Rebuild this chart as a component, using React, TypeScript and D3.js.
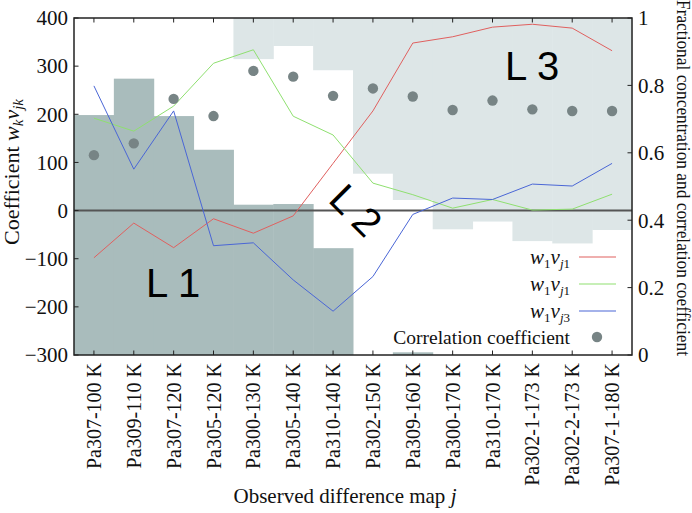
import * as d3 from 'd3';

const maps = [
  'Pa307-100 K', 'Pa309-110 K', 'Pa307-120 K', 'Pa305-120 K', 'Pa300-130 K',
  'Pa305-140 K', 'Pa310-140 K', 'Pa302-150 K', 'Pa309-160 K', 'Pa300-170 K',
  'Pa310-170 K', 'Pa302-1-173 K', 'Pa302-2-173 K', 'Pa307-1-180 K',
];

// fractional concentrations of L1 (from bottom) and L3 (from top)
const fracL1 = [0.712, 0.82, 0.709, 0.609, 0.446, 0.448, 0.317, 0, 0.008, 0, 0, 0, 0, 0];
const fracL3 = [0, 0, 0, 0, 0.122, 0.083, 0.155, 0.462, 0.54, 0.627, 0.604, 0.662, 0.669, 0.629];

const red = [-98, -26, -77, -17, -47, -11, 98, 207, 348, 361, 381, 387, 379, 332];
const green = [192, 165, 217, 306, 334, 196, 157, 57, 33, 5, 23, 1, 3, 34];
const blue = [259, 86, 207, -73, -67, -144, -209, -137, -8, 26, 23, 55, 51, 98];
const corr = [0.593, 0.628, 0.76, 0.709, 0.843, 0.826, 0.769, 0.791, 0.767, 0.727, 0.755, 0.729, 0.724, 0.724];

const leftTicks = [-300, -200, -100, 0, 100, 200, 300, 400];
const rightTicks = [0, 0.2, 0.4, 0.6, 0.8, 1];

const W = 692;
const H = 513;
const m = { left: 74, right: 60, top: 18, bottom: 158 };
const serif = '"Liberation Serif", "Times New Roman", serif';
const sans = '"Liberation Sans", Arial, sans-serif';

const darkFill = '#a9bcbc';
const lightFill = '#dde6e7';
const dotFill = '#778485';

export default function App() {
  const x = d3.scaleBand<string>().domain(maps).range([m.left, W - m.right]).padding(0);
  const yL = d3.scaleLinear().domain([-300, 400]).range([H - m.bottom, m.top]);
  const yR = d3.scaleLinear().domain([0, 1]).range([H - m.bottom, m.top]);
  const cx = (d: string) => (x(d) as number) + x.bandwidth() / 2;

  const line = (vals: number[]) =>
    d3.line<number>().x((_, i) => cx(maps[i])).y((v) => yL(v))(vals) as string;

  const x0 = m.left;
  const x1 = W - m.right;
  const yTop = m.top;
  const yBot = H - m.bottom;

  const series = [
    { vals: red, color: '#e0605f', sub: '1' },
    { vals: green, color: '#8fe070', sub: '1' },
    { vals: blue, color: '#4a66d6', sub: '3' },
  ];

  return (
    <svg width={W} height={H} style={{ position: 'absolute', left: 0, top: 0, background: '#fff' }}>
      {maps.map((d, i) => (
        <g key={d}>
          {fracL1[i] > 0 && (
            <rect x={x(d)} width={x.bandwidth() + 0.5} y={yR(fracL1[i])} height={yR(0) - yR(fracL1[i])} fill={darkFill} />
          )}
          {fracL3[i] > 0 && (
            <rect x={x(d)} width={x.bandwidth() + 0.5} y={yR(1)} height={yR(1 - fracL3[i]) - yR(1)} fill={lightFill} />
          )}
        </g>
      ))}

      <line x1={x0} x2={x1} y1={yL(0)} y2={yL(0)} stroke="#555" strokeWidth={2} />

      {series.map((s, k) => (
        <path key={k} d={line(s.vals)} fill="none" stroke={s.color} strokeWidth={1} />
      ))}

      {corr.map((v, i) => (
        <circle key={i} cx={cx(maps[i])} cy={yR(v)} r={5.2} fill={dotFill} />
      ))}

      <rect x={x0} y={yTop} width={x1 - x0} height={yBot - yTop} fill="none" stroke="#222" strokeWidth={1.5} />

      {maps.map((d) => (
        <g key={d}>
          <line x1={cx(d)} x2={cx(d)} y1={yBot} y2={yBot - 4.5} stroke="#222" strokeWidth={1} />
          <line x1={cx(d)} x2={cx(d)} y1={yTop} y2={yTop + 4.5} stroke="#222" strokeWidth={1} />
          <text
            transform={`translate(${cx(d)},${yBot + 8}) rotate(-90)`}
            textAnchor="end"
            dy="0.35em"
            fontFamily={serif}
            fontSize={20}
            fill="#111"
          >
            {d}
          </text>
        </g>
      ))}

      {leftTicks.map((t) => (
        <g key={t}>
          <line x1={x0} x2={x0 + 4.5} y1={yL(t)} y2={yL(t)} stroke="#222" strokeWidth={1} />
          <text x={x0 - 6} y={yL(t)} dy="0.35em" textAnchor="end" fontFamily={serif} fontSize={21} fill="#111">
            {t < 0 ? `\u2212${-t}` : t}
          </text>
        </g>
      ))}

      {rightTicks.map((t) => (
        <g key={t}>
          <line x1={x1} x2={x1 - 4.5} y1={yR(t)} y2={yR(t)} stroke="#222" strokeWidth={1} />
          <text x={x1 + 6} y={yR(t)} dy="0.35em" textAnchor="start" fontFamily={serif} fontSize={21} fill="#111">
            {t}
          </text>
        </g>
      ))}

      <text transform="translate(19,172) rotate(-90)" textAnchor="middle" fontFamily={serif} fontSize={22} fill="#111">
        Coefficient <tspan fontStyle="italic">w</tspan>
        <tspan fontSize={15} fontStyle="italic" dy={4}>k</tspan>
        <tspan fontStyle="italic" dy={-4}>v</tspan>
        <tspan fontSize={15} fontStyle="italic" dy={4}>jk</tspan>
      </text>

      <text
        transform="translate(677,178) rotate(90)"
        textAnchor="middle"
        fontFamily={serif}
        fontSize={18}
        fill="#111"
        textLength={356}
        lengthAdjust="spacingAndGlyphs"
      >
        Fractional concentration and correlation coefficient
      </text>

      <text x={345} y={503} textAnchor="middle" fontFamily={serif} fontSize={21} fill="#111">
        Observed difference map <tspan fontStyle="italic">j</tspan>
      </text>

      <text x={146} y={297} fontFamily={sans} fontSize={40} fill="#000">L 1</text>
      <text x={505} y={80} fontFamily={sans} fontSize={40} fill="#000">L 3</text>
      <text transform="translate(327,201) rotate(45)" fontFamily={sans} fontSize={40} fill="#000">L 2</text>

      {series.map((s, k) => {
        const ly = 257 + k * 27;
        return (
          <g key={k}>
            <text x={570} y={ly} dy="0.35em" textAnchor="end" fontFamily={serif} fontSize={21} fill="#111">
              <tspan fontStyle="italic">w</tspan>
              <tspan fontSize={13} dy={4}>1</tspan>
              <tspan fontStyle="italic" dy={-4}>v</tspan>
              <tspan fontSize={13} dy={4}>
                <tspan fontStyle="italic">j</tspan>
                {s.sub}
              </tspan>
            </text>
            <line x1={579} x2={616} y1={ly} y2={ly} stroke={s.color} strokeWidth={1.2} />
          </g>
        );
      })}
      <text x={570} y={337} dy="0.35em" textAnchor="end" fontFamily={serif} fontSize={19.5} fill="#111">
        Correlation coefficient
      </text>
      <circle cx={597} cy={337} r={5.2} fill={dotFill} />
    </svg>
  );
}
